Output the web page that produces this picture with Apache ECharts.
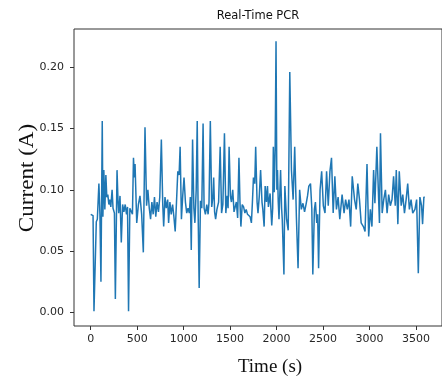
<!DOCTYPE html>
<html>
<head>
<meta charset="utf-8">
<script src="https://cdn.jsdelivr.net/npm/echarts@6/dist/echarts.min.js"></script>
<style>html,body{margin:0;padding:0;background:#fff;}#c{width:442px;height:381px;}</style>
</head>
<body>
<div id="c"></div>
<script>
const titleText = "Real-Time PCR";
const xName = "Time (s)";
const yName = "Current (A)";
const xTicks = [0, 500, 1000, 1500, 2000, 2500, 3000, 3500];
const yTicks = [0.00, 0.05, 0.10, 0.15, 0.20];

const times = [
0,18,25,35,46,60,71,81,88,99,110,124,131,141,152,163,173,184,195,205,216,230,240,255,265,283,294,301,315,329,343,357,371,385,396,407,421,435,449,460,470,477,495,513,530,548,566,584,
601,615,630,644,658,672,686,700,714,729,743,760,775,785,799,813,828,838,852,866,881,895,909,923,937,951,962,976,990,1004,1019,1033,1047,1061,1072,1082,1096,1110,1121,1135,1146,1156,1167,1181,1195,1209,
1220,1234,1249,1263,1273,1287,1302,1316,1323,1333,1344,1358,1376,1393,1408,1422,1439,1454,1468,1478,1489,1503,1514,1528,1542,1553,1567,1581,1595,1606,1616,1630,1645,1659,1673,1687,1701,1715,1729,1740,1751,1765,1775,1790,1800,1814,1828,1843,
1852,1866,1877,1891,1902,1912,1930,1948,1958,1965,1975,1985,1994,2003,2010,2018,2026,2043,2054,2061,2079,2089,2107,2125,2142,2160,2178,2195,2213,2231,2248,2266,2284,2301,2319,2333,2347,2365,2379,2390,2407,2418,2432,2442,2452,
2468,2485,2503,2521,2538,2556,2574,2591,2609,2627,2644,2662,2680,2705,2726,2743,2761,2779,2797,2814,2839,2857,2874,2892,2910,2934,2952,2973,2991,3009,3026,3044,3058,3079,
3107,3118,3136,3153,3171,3189,3206,3224,3242,3259,3277,3288,3305,3320,3341,3358,3376,3394,3411,3429,3447,3465,3489,3507,3525,3542,3560,3571,3585,3595
];
const current = [
0.080,0.080,0.079,0.001,0.000,0.074,0.076,0.077,0.105,0.080,0.025,0.156,0.078,0.116,0.084,0.112,0.094,0.096,0.088,0.092,0.086,0.100,0.085,0.081,0.011,0.116,0.090,0.081,0.095,0.057,0.088,0.082,0.088,0.080,0.086,0.001,0.085,0.085,0.080,0.126,0.110,0.121,0.073,0.088,0.095,0.080,0.049,0.151,
0.087,0.100,0.085,0.076,0.090,0.080,0.094,0.078,0.090,0.082,0.094,0.141,0.088,0.070,0.094,0.085,0.092,0.073,0.090,0.080,0.088,0.078,0.066,0.090,0.115,0.112,0.135,0.076,0.095,0.110,0.090,0.081,0.085,0.081,0.094,0.051,0.141,0.085,0.073,0.100,0.156,0.080,0.020,0.091,0.085,0.154,
0.085,0.080,0.088,0.080,0.090,0.156,0.086,0.095,0.110,0.082,0.076,0.084,0.090,0.135,0.081,0.088,0.146,0.081,0.095,0.085,0.135,0.095,0.090,0.100,0.082,0.081,0.090,0.077,0.126,0.090,0.070,0.088,0.086,0.081,0.084,0.080,0.081,0.078,0.073,0.090,0.110,0.105,0.135,0.090,0.081,0.095,0.116,0.090,
0.084,0.070,0.103,0.090,0.103,0.086,0.097,0.071,0.085,0.135,0.098,0.135,0.221,0.100,0.116,0.090,0.076,0.116,0.085,0.076,0.031,0.103,0.076,0.067,0.196,0.116,0.092,0.135,0.078,0.036,0.100,0.084,0.089,0.082,0.089,0.095,0.103,0.105,0.085,0.031,0.084,0.090,0.073,0.080,0.036,
0.100,0.115,0.087,0.081,0.115,0.087,0.115,0.126,0.081,0.111,0.084,0.094,0.076,0.096,0.081,0.092,0.084,0.092,0.070,0.111,0.092,0.084,0.105,0.092,0.073,0.070,0.066,0.121,0.062,0.084,0.070,0.116,0.089,0.135,
0.073,0.146,0.081,0.092,0.100,0.081,0.096,0.087,0.092,0.111,0.087,0.116,0.072,0.115,0.087,0.096,0.081,0.092,0.105,0.084,0.092,0.081,0.084,0.092,0.032,0.094,0.087,0.072,0.094,0.094
];

const seriesData = times.map((t, i) => [t, current[i]]);

const chart = echarts.init(document.getElementById('c'), null, {renderer: 'canvas'});
const tickFont = {fontFamily: 'DejaVu Sans', fontSize: 11, color: '#262626'};
chart.setOption({
  animation: false,
  backgroundColor: '#fff',
  grid: {left: 74, right: -5, top: 29, bottom: 55, show: true, borderColor: '#333', borderWidth: 1, backgroundColor: 'transparent'},
  xAxis: {
    type: 'value', min: -180, max: 3780,
    axisLine: {show: false, onZero: false},
    splitLine: {show: false},
    axisTick: {show: true, inside: false, length: 4, customValues: xTicks, lineStyle: {color: '#333', width: 1}},
    axisLabel: Object.assign({customValues: xTicks, margin: 8, formatter: v => String(v)}, tickFont)
  },
  yAxis: {
    type: 'value', min: -0.011, max: 0.231,
    axisLine: {show: false, onZero: false},
    splitLine: {show: false},
    axisTick: {show: true, inside: false, length: 4, customValues: yTicks, lineStyle: {color: '#333', width: 1}},
    axisLabel: Object.assign({customValues: yTicks, margin: 10, formatter: v => v.toFixed(2)}, tickFont)
  },
  series: [{
    type: 'line', data: seriesData, showSymbol: false, symbol: 'none',
    lineStyle: {color: '#1f77b4', width: 1.5}, z: 3
  }],
  graphic: [
    {type: 'text', x: 258, y: 16, style: {text: titleText, x: 0, y: 0, textAlign: 'center', textVerticalAlign: 'middle', font: '11.5px "DejaVu Sans"', fill: '#111'}},
    {type: 'text', x: 270, y: 367, style: {text: xName, x: 0, y: 0, textAlign: 'center', textVerticalAlign: 'middle', font: '19px "Liberation Serif"', fill: '#111'}},
    {type: 'text', rotation: Math.PI / 2, x: 27, y: 178, scaleX: 1.1, style: {text: yName, x: 0, y: 0, textAlign: 'center', textVerticalAlign: 'middle', font: '21px "Liberation Serif"', fill: '#111'}}
  ]
});
</script>
</body>
</html>
